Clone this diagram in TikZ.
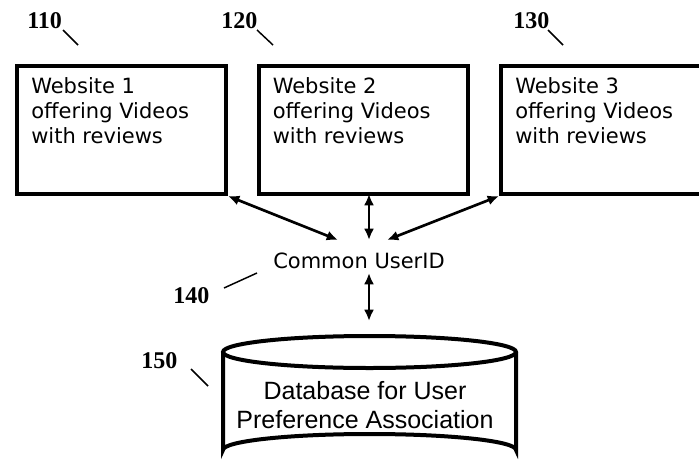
\documentclass[tikz,border=0pt]{standalone}
\usepackage{fontspec}
\newfontfamily\boxfont{DejaVu Sans}
\newfontfamily\dbfont{Liberation Sans}
\newfontfamily\numfont{Liberation Serif}
\usetikzlibrary{arrows.meta}
\begin{document}
\begin{tikzpicture}[x=0.75pt,y=-0.75pt,
  site/.style={draw, line width=3pt, minimum width=156.75pt, minimum height=96.4pt, inner sep=0pt, anchor=north west},
  sitetext/.style={anchor=base west, align=left, inner sep=0pt, font=\boxfont\fontsize{15.75}{18.75}\selectfont},
  reftext/.style={anchor=base west, inner sep=0pt, font=\numfont\bfseries\fontsize{18}{20}\selectfont},
  leader/.style={line width=1.1pt},
  link/.style={line width=2pt, {Latex[length=8.5pt,width=7.5pt]}-{Latex[length=8.5pt,width=7.5pt]}},
  dbline/.style={line width=3pt}]
\useasboundingbox (0,0) rectangle (699,464);
% website boxes
\node[site] (w1) at (15,63.5) {};
\node[site] (w2) at (256.5,63.5) {};
\node[site] (w3) at (499,63.5) {};
\node[sitetext] (t1) at (31,143) {Website 1\\offering Videos\\with reviews};
\node[sitetext] (t2) at (272.5,143) {Website 2\\offering Videos\\with reviews};
\node[sitetext] (t3) at (515,143) {Website 3\\offering Videos\\with reviews};
% reference numbers
\node[reftext] (r110) at (27,28) {110};
\node[reftext] (r120) at (221,28) {120};
\node[reftext] (r130) at (513,28) {130};
\node[reftext] (r140) at (173,303) {140};
\node[reftext] (r150) at (141,368) {150};
\coordinate (l110a) at (63,30); \coordinate (l110b) at (78,45);
\coordinate (l120a) at (257,30); \coordinate (l120b) at (273,45);
\coordinate (l130a) at (548,30); \coordinate (l130b) at (563,45);
\coordinate (l140a) at (224,288); \coordinate (l140b) at (257,273);
\coordinate (l150a) at (191,369); \coordinate (l150b) at (208,386);
\draw[leader] (l110a) -- (l110b);
\draw[leader] (l120a) -- (l120b);
\draw[leader] (l130a) -- (l130b);
\draw[leader] (l140a) -- (l140b);
\draw[leader] (l150a) -- (l150b);
% common user id
\node[anchor=base, inner sep=0pt, font=\boxfont\fontsize{15.75}{18.75}\selectfont] (cu) at (359,268) {Common UserID};
\coordinate (hubL) at (338,240);
\coordinate (hubM) at (369,240);
\coordinate (hubR) at (387,240);
\coordinate (w2b) at (369,194);
\coordinate (cuB) at (369,273);
\coordinate (dbT) at (369,321);
\draw[link] (w1.south east) -- (hubL);
\draw[link] (w2b) -- (hubM);
\draw[link] (w3.south west) -- (hubR);
\draw[link] (cuB) -- (dbT);
% database cylinder
\draw[dbline] (369.5,352) ellipse [x radius=146.5, y radius=16];
\draw[dbline] (223,352) -- (223,450) arc[start angle=180, end angle=360, x radius=146.5, y radius=16] -- (516,352);
\node[anchor=base, align=center, inner sep=0pt, font=\dbfont\fontsize{18.75}{21.75}\selectfont] (db) at (365,428) {Database for User\\Preference Association};
\end{tikzpicture}
\end{document}
